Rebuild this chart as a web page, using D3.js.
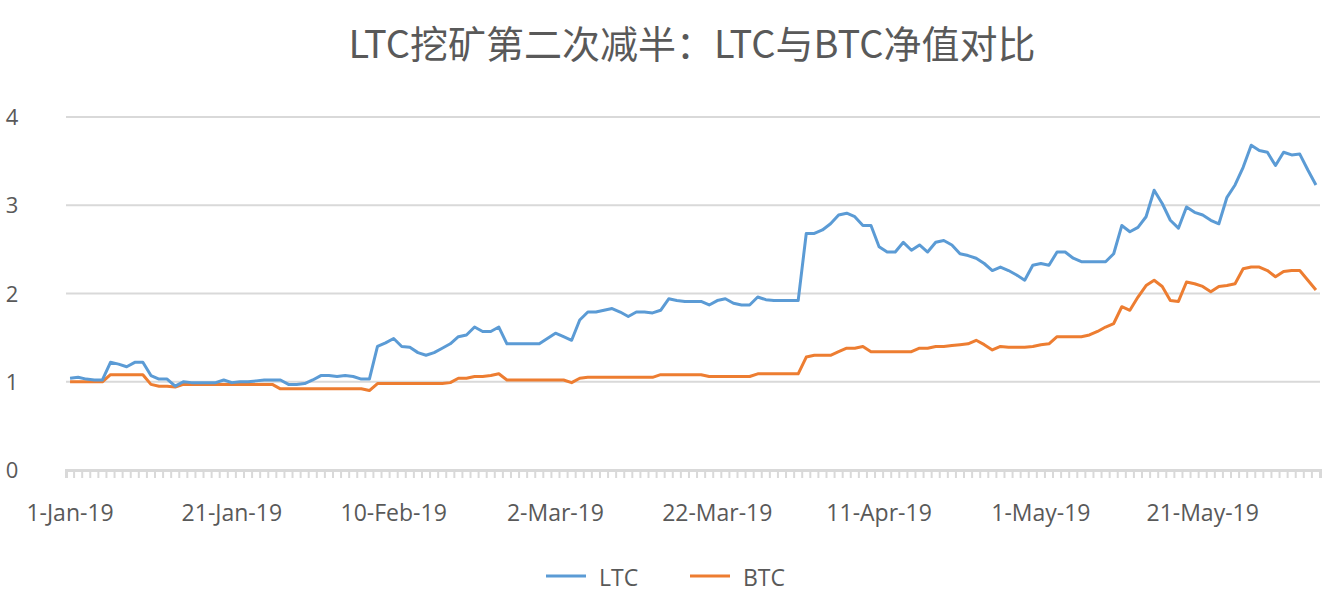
<!DOCTYPE html>
<html><head><meta charset="utf-8">
<script src="https://cdn.jsdelivr.net/npm/d3@7"></script>
<style>body{margin:0;background:#fff}</style>
</head><body>
<svg width="1323" height="600"></svg>
<script>
const startDate = new Date(2019, 0, 1);
const tickLabels = ['1-Jan-19','21-Jan-19','10-Feb-19','2-Mar-19','22-Mar-19','11-Apr-19','1-May-19','21-May-19'];
const ltc = [
  1.04,1.05,1.03,1.02,1.02,1.22,1.20,1.17,1.22,1.22,
  1.07,1.03,1.03,0.95,1.00,0.99,0.99,0.99,0.99,1.02,
  0.99,1.00,1.00,1.01,1.02,1.02,1.02,0.97,0.97,0.98,
  1.02,1.07,1.07,1.06,1.07,1.06,1.03,1.03,1.40,1.44,
  1.49,1.40,1.39,1.33,1.30,1.33,1.38,1.43,1.51,1.53,
  1.62,1.57,1.57,1.62,1.43,1.43,1.43,1.43,1.43,1.49,
  1.55,1.51,1.47,1.70,1.79,1.79,1.81,1.83,1.79,1.74,
  1.79,1.79,1.78,1.81,1.94,1.92,1.91,1.91,1.91,1.87,
  1.92,1.94,1.89,1.87,1.87,1.96,1.93,1.92,1.92,1.92,
  1.92,2.68,2.68,2.72,2.79,2.89,2.91,2.87,2.77,2.77,
  2.53,2.47,2.47,2.58,2.49,2.55,2.47,2.58,2.60,2.55,
  2.45,2.43,2.40,2.34,2.26,2.30,2.26,2.21,2.15,2.32,
  2.34,2.32,2.47,2.47,2.40,2.36,2.36,2.36,2.36,2.45,
  2.77,2.70,2.75,2.87,3.17,3.02,2.83,2.74,2.98,2.92,
  2.89,2.83,2.79,3.09,3.23,3.43,3.68,3.62,3.60,3.45,
  3.60,3.57,3.58,3.40,3.23
];
const btc = [
  1.00,1.00,1.00,1.00,1.00,1.08,1.08,1.08,1.08,1.08,
  0.97,0.95,0.95,0.94,0.97,0.97,0.97,0.97,0.97,0.97,
  0.97,0.97,0.97,0.97,0.97,0.97,0.92,0.92,0.92,0.92,
  0.92,0.92,0.92,0.92,0.92,0.92,0.92,0.90,0.98,0.98,
  0.98,0.98,0.98,0.98,0.98,0.98,0.98,0.99,1.04,1.04,
  1.06,1.06,1.07,1.09,1.02,1.02,1.02,1.02,1.02,1.02,
  1.02,1.02,0.99,1.04,1.05,1.05,1.05,1.05,1.05,1.05,
  1.05,1.05,1.05,1.08,1.08,1.08,1.08,1.08,1.08,1.06,
  1.06,1.06,1.06,1.06,1.06,1.09,1.09,1.09,1.09,1.09,
  1.09,1.28,1.30,1.30,1.30,1.34,1.38,1.38,1.40,1.34,
  1.34,1.34,1.34,1.34,1.34,1.38,1.38,1.40,1.40,1.41,
  1.42,1.43,1.47,1.42,1.36,1.40,1.39,1.39,1.39,1.40,
  1.42,1.43,1.51,1.51,1.51,1.51,1.53,1.57,1.62,1.66,
  1.85,1.81,1.96,2.09,2.15,2.08,1.92,1.91,2.13,2.11,
  2.08,2.02,2.08,2.09,2.11,2.28,2.30,2.30,2.26,2.19,
  2.25,2.26,2.26,2.15,2.04
];
const yTicks = [0, 1, 2, 3, 4];

const svg = d3.select('svg');
const margin = {left: 66, right: 1320, top: 116, bottom: 470};
const dates = d3.timeDay.range(startDate, d3.timeDay.offset(startDate, ltc.length));

const x = d3.scaleBand().domain(d3.range(dates.length)).range([margin.left, margin.right]);
const cx = i => x(i) + x.bandwidth() / 2;
const y = d3.scaleLinear().domain([0, 4]).range([margin.bottom, margin.top + 1]);

svg.append('text').attr('x', 692).attr('y', 58).attr('text-anchor', 'middle')
  .attr('font-family', 'Noto Sans CJK SC').attr('font-size', 38).attr('fill', '#595959')
  .text('LTC挖矿第二次减半：LTC与BTC净值对比');

// gridlines
svg.append('g').selectAll('line').data(yTicks.slice(1)).join('line')
  .attr('x1', margin.left).attr('x2', margin.right).attr('y1', d => y(d)).attr('y2', d => y(d))
  .attr('stroke', '#d9d9d9').attr('stroke-width', 2);

svg.append('g').selectAll('text').data(yTicks).join('text')
  .attr('x', 12).attr('y', d => y(d) + 8).attr('text-anchor', 'middle')
  .attr('font-family', 'Open Sans').attr('font-size', 22).attr('fill', '#595959')
  .text(d => d);

// x axis with minor ticks per day
const xAxis = d3.axisBottom(x).tickSize(8).tickFormat('');
const ga = svg.append('g').attr('transform', `translate(0,${margin.bottom})`).call(xAxis);
ga.selectAll('.tick line').attr('stroke', '#d9d9d9').attr('stroke-width', 2)
  .attr('transform', `translate(${-x.bandwidth() / 2},0)`);
ga.select('.domain').attr('stroke', '#d9d9d9').attr('stroke-width', 3);

svg.append('g').selectAll('text').data(tickLabels).join('text')
  .attr('x', (d, k) => cx(k * 20)).attr('y', 521).attr('text-anchor', 'middle')
  .attr('font-family', 'Open Sans').attr('font-size', 23).attr('fill', '#595959')
  .text(d => d);

const line = d3.line().x((d, i) => cx(i)).y(d => y(d));
svg.append('path').datum(btc).attr('d', line).attr('fill', 'none')
  .attr('stroke', '#ED7D31').attr('stroke-width', 3).attr('stroke-linejoin', 'round');
svg.append('path').datum(ltc).attr('d', line).attr('fill', 'none')
  .attr('stroke', '#5B9BD5').attr('stroke-width', 3).attr('stroke-linejoin', 'round');

// legend
const legend = [['LTC', '#5B9BD5', 546], ['BTC', '#ED7D31', 690]];
const lg = svg.append('g').selectAll('g').data(legend).join('g');
lg.append('line').attr('x1', d => d[2]).attr('x2', d => d[2] + 40)
  .attr('y1', 576).attr('y2', 576).attr('stroke', d => d[1]).attr('stroke-width', 3);
lg.append('text').attr('x', d => d[2] + 53).attr('y', 586)
  .attr('font-family', 'Open Sans').attr('font-size', 23).attr('fill', '#595959')
  .text(d => d[0]);
</script>
</body></html>
